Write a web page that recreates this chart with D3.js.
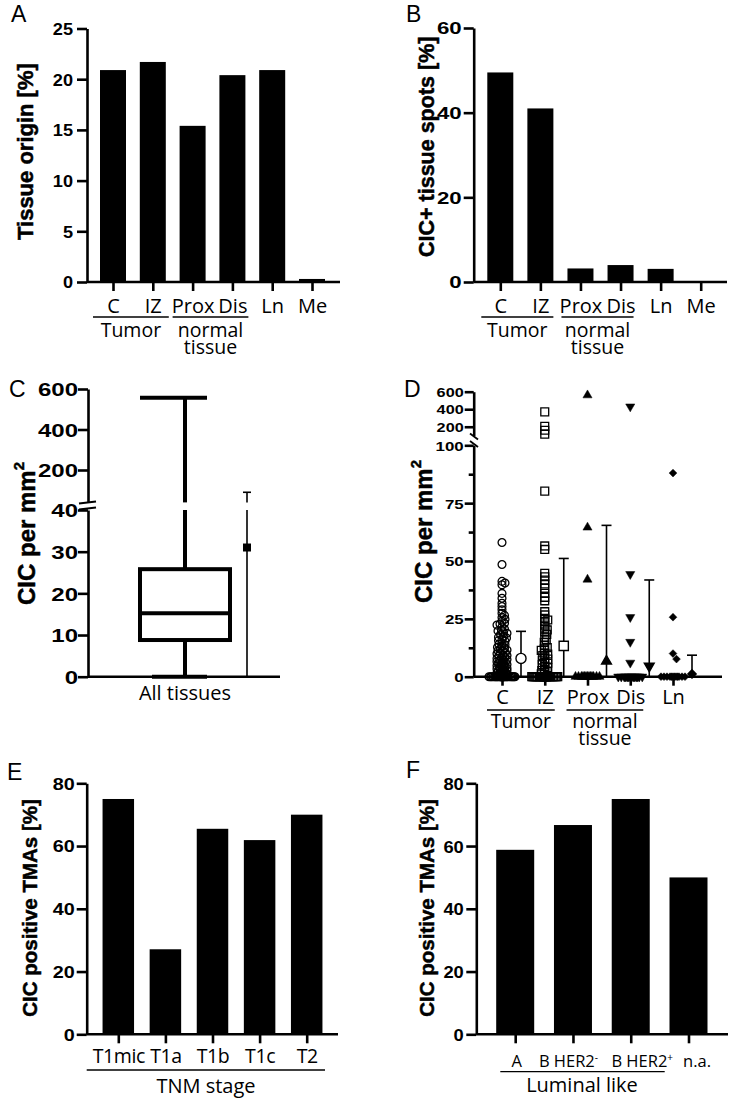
<!DOCTYPE html>
<html><head><meta charset="utf-8">
<script src="https://cdn.jsdelivr.net/npm/d3@7"></script>
<style>body{margin:0;background:#fff} svg{display:block;background:#fff}</style>
</head><body>
<svg id="fig" width="734" height="1105"></svg>
<script>
// ---------------- DATA ----------------
const tissueCats = ["C","IZ","Prox","Dis","Ln","Me"];
const tissueOrigin = [20.9, 21.7, 15.4, 20.4, 20.9, 0.3];
const cicSpots = [49.5, 41.0, 3.2, 4.0, 3.1, 0];
const groupNames = [["Tumor"], ["normal","tissue"]];
const groupSpans = [["C","IZ"], ["Prox","Dis"]];
const ticksA = [0,5,10,15,20,25];
const ticksB = [0,20,40,60];

const boxCats = ["All tissues"];
const boxMin = [0], boxQ1 = [8.8], boxMedian = [15.2], boxQ3 = [25.8], boxMax = [557];
const allMean = [31.0], allSdTop = [90];
const ticksCLow = [0,10,20,30,40], ticksCHigh = [200,400,600];

const dCats = ["C","IZ","Prox","Dis","Ln"];
const dValsC = [58,48.5,41.2,40.5,39.7,36,33.9,31.7,30.3,28.9,27.4,26.5,25.6,24.8,24,23.1,22.3,21.5,20.6,19.8,19,18.2,17.4,16.7,16,15.3,14.6,14,13.3,12.7,12.1,11.5,11,10.4,9.9,9.4,8.9,8.4,7.9,7.4,7,6.5,6.1,5.7,5.3,4.9,4.5,4.1,3.7,3.3,2.9,2.6,2.3,2,1.7,1.4,1.1,0.8,0.5,0.3,2.9,
  22.8,20.1,18.8,17.1,15.6,13.8,12.4,11.2,10.1,9.2,8.1,7.2,6.3,5.5,4.7,3.9,3.1,2.4,1.6,0.9,
  0,0,0,0,0,0,0,0,0,0,0,0,0,0,0,0,0,0,0,0,0,0,0,0,0,0,0,0];
const dValsIZ = [370,205,160,115,80.2,56.5,55,44.7,43.2,41.8,40.1,38.2,36,34.3,32.8,28.1,26.7,25.2,23.8,22.3,21,19.4,18.3,15.9,14.8,13.5,12.6,11.4,10.2,9.1,8,7.2,6.1,5.2,3.9,3.1,2.2,1.2,
  24.5,20.2,17.1,12,9.8,7.6,5.8,4.4,2.7,1.8,
  0,0,0,0,0,0,0,0,0,0,0,0,0,0,0,0,0,0,0,0,0,0,0,0,0,0,0,0];
const dValsProx = [560,64.5,42,0,0,0,0,0,0,0,0,0,0,0,0,0];
const dValsDis = [430,44.3,25.7,15,6,0,0,0,0,0,0,0,0,0,0,0,0,0,0];
const dValsLn = [88,25.7,10,7.6,0,0,0,0,0,0,0,0,0,0,0,0];
const dMeans = [7.9,13.3,6.7,4.6,1.2];
const dSdTop = [19.6,51.1,65.4,41.8,9.3];
const ticksDLow = [0,25,50,75,100], ticksDMinor = [12.5,37.5,62.5,87.5], ticksDHigh = [200,400,600];

const tnmCats = ["T1mic","T1a","T1b","T1c","T2"];
const tnmVals = [75,27.1,65.5,61.9,70];
const lumCats = ["A","B HER2-","B HER2+","n.a."];
const lumVals = [58.8,66.7,75,50];
const ticksEF = [0,20,40,60,80];

// ---------------- HELPERS ----------------
const svg = d3.select("#fig");
const FT = "'Liberation Sans', Arial, sans-serif";
const FL = "'Open Sans', sans-serif";
const AXW = 2.6;

function styleAxis(g){
  g.selectAll("path.domain,.tick line").attr("stroke","#000").attr("stroke-width",AXW);
  g.selectAll(".tick text").attr("font-family",FT).attr("font-weight","bold").attr("font-size",16).attr("fill","#000");
}
// y axis with horizontally stretched bold tick labels
function yAxis(scale, ticks, x, size, fs, sx, pad){
  const g = svg.append("g").attr("transform",`translate(${x},0)`)
    .call(d3.axisLeft(scale).tickValues(ticks).tickSize(size).tickPadding(pad).tickSizeOuter(0));
  styleAxis(g);
  g.selectAll(".tick text").attr("font-size",fs)
    .attr("x", -(size+pad)/sx).attr("transform",`scale(${sx},1)`).attr("dy","0.36em");
  return g;
}
function xAxis(scale, y, x0, x1, labelY, fs=20){
  const g = svg.append("g").attr("transform",`translate(0,${y})`)
    .call(d3.axisBottom(scale).tickSize(9).tickSizeOuter(0));
  styleAxis(g);
  g.select("path.domain").remove();
  g.append("line").attr("x1",x0).attr("x2",x1).attr("stroke","#000").attr("stroke-width",AXW);
  g.selectAll(".tick text").attr("font-family",FL).attr("font-weight","normal").attr("font-size",fs).attr("y",labelY).attr("dy",0);
  return g;
}
function ylabel(text, x, yBottom, fs, sup){
  const t = svg.append("text").attr("transform",`translate(${x},${yBottom}) rotate(-90)`)
    .attr("font-family",FT).attr("font-weight","bold").attr("font-size",fs).attr("fill","#000")
    .attr("stroke","#000").attr("stroke-width",0.5).text(text);
  if (sup) t.append("tspan").attr("font-size",fs*0.62).attr("dy",-fs*0.45).text(sup);
}
function panelLetter(t,x,y){
  svg.append("text").attr("x",x).attr("y",y).attr("font-family",FT).attr("font-size",23).attr("fill","#000").text(t);
}
function groups(xs, lineY, textY, padL, padR){
  groupSpans.forEach((sp,i)=>{
    const a = xs(sp[0])-padL, b = xs(sp[1])+padR;
    svg.append("line").attr("x1",a).attr("x2",b).attr("y1",lineY).attr("y2",lineY).attr("stroke","#000").attr("stroke-width",1.3);
    groupNames[i].forEach((s,j)=>{
      svg.append("text").attr("x",(a+b)/2).attr("y",textY+j*16.5).attr("text-anchor","middle")
        .attr("font-family",FL).attr("font-size",19.5).attr("fill","#000").text(s);
    });
  });
}
function bars(cats, vals, x, y, w){
  svg.append("g").selectAll("rect").data(cats).join("rect")
    .attr("x",d=>x(d)-w/2).attr("width",w)
    .attr("y",(d,i)=>y(vals[i])).attr("height",(d,i)=>y(0)-y(vals[i]))
    .attr("fill","#000");
}
function broken(segs){
  const sc = segs.map(s=>d3.scaleLinear().domain(s.d).range(s.r));
  const f = v => { for(let i=0;i<segs.length;i++){ if(v<=segs[i].d[1]||i===segs.length-1) return sc[i](v);} };
  f.sc = sc; f.segs = segs; return f;
}
function vLine(f, x, v0, v1, w){
  f.segs.forEach((s,i)=>{
    const lo=Math.max(v0,s.d[0]), hi=Math.min(v1,s.d[1]);
    if(hi>lo) svg.append("line").attr("x1",x).attr("x2",x).attr("y1",f.sc[i](lo)).attr("y2",f.sc[i](hi))
      .attr("stroke","#000").attr("stroke-width",w);
  });
}
function hLine(x0,x1,y,w){
  svg.append("line").attr("x1",x0).attr("x2",x1).attr("y1",y).attr("y2",y).attr("stroke","#000").attr("stroke-width",w);
}

// ---------------- PANEL A ----------------
{
  const x = d3.scalePoint().domain(tissueCats).range([113,312]);
  const y = d3.scaleLinear().domain([0,25]).range([282,28.5]);
  bars(tissueCats, tissueOrigin, x, y, 26);
  yAxis(y, ticksA, 87, 10, 16.5, 1.1, 4);
  xAxis(x, 282, 87, 340, 30.5);
  groups(x, 317, 337, 20, 16);
  ylabel("Tissue origin [%]", 33, 240, 22);
  panelLetter("A", 11, 22);
}
// ---------------- PANEL B ----------------
{
  const x = d3.scalePoint().domain(tissueCats).range([500.3,700.7]);
  const y = d3.scaleLinear().domain([0,60]).range([282,28]);
  bars(tissueCats, cicSpots, x, y, 26);
  yAxis(y, ticksB, 473.7, 10, 16.5, 1.35, 2);
  xAxis(x, 282, 473.7, 727, 30.5);
  groups(x, 317, 337, 19, 13);
  ylabel("CIC+ tissue spots [%]", 433.5, 257, 21.5);
  panelLetter("B", 406, 22);
}
// ---------------- PANEL C ----------------
{
  const f = broken([{d:[0,40], r:[676.7,510]}, {d:[40,600], r:[502.4,389]}]);
  const x = d3.scalePoint().domain(boxCats).range([88,282]).padding(0.5);
  const cx = x(boxCats[0]);
  const mx = cx + 62;
  vLine(f, cx, boxQ3[0], boxMax[0], 4);
  vLine(f, cx, boxMin[0], boxQ1[0], 4);
  hLine(cx-45, cx+22, f(boxMax[0]), 4);
  hLine(cx-33, cx+22, f(boxMin[0]), 4);
  svg.append("rect").attr("x",cx-45).attr("width",90).attr("y",f(boxQ3[0])).attr("height",f(boxQ1[0])-f(boxQ3[0]))
    .attr("fill","none").attr("stroke","#000").attr("stroke-width",4);
  hLine(cx-45, cx+45, f(boxMedian[0]), 4);
  vLine(f, mx, 0, allSdTop[0], 1.6);
  hLine(mx-4, mx+4, f(allSdTop[0]), 1.6);
  svg.append("path").attr("d", d3.symbol(d3.symbolSquare, 64)()).attr("transform",`translate(${mx},${f(allMean[0])})`).attr("fill","#000");
  yAxis(f.sc[0], ticksCLow, 88, 10, 18.5, 1.3, 0);
  yAxis(f.sc[1], ticksCHigh, 88, 10, 18.5, 1.3, 0);
  svg.append("line").attr("x1",88).attr("x2",280).attr("y1",676.7).attr("y2",676.7).attr("stroke","#000").attr("stroke-width",AXW);
  svg.append("text").attr("x",cx).attr("y",700).attr("text-anchor","middle").attr("font-family",FL).attr("font-size",20).attr("fill","#000").text(boxCats[0]);
  [502.5,508.5].forEach(yy=>svg.append("line").attr("x1",79).attr("x2",96).attr("y1",yy+1).attr("y2",yy-1).attr("stroke","#000").attr("stroke-width",2));
  ylabel("CIC per mm", 35, 605, 24, "2");
  panelLetter("C", 9, 397);
}
// ---------------- PANEL D ----------------
{
  const f = broken([{d:[0,100], r:[676.7,445.3]}, {d:[100,600], r:[435.5,391.7]}]);
  const x = d3.scalePoint().domain(dCats).range([502,673]);
  const series = [dValsC, dValsIZ, dValsProx, dValsDis, dValsLn];
  const syms = [
    {t:d3.symbolCircle, s:48, fill:"none", rot:0, ms:80},
    {t:d3.symbolSquare, s:62, fill:"none", rot:0, ms:85},
    {t:d3.symbolTriangle, s:36, fill:"#000", rot:0, ms:42},
    {t:d3.symbolTriangle, s:36, fill:"#000", rot:180, ms:42},
    {t:d3.symbolSquare, s:30, fill:"#000", rot:45, ms:34}
  ];
  const minD = [3.2,3.0,7,7,6.5];
  const maxHalfNZ = [5,4,6,6,6];
  function swarm(vals, cx, md, mh){
    const pts = vals.map(v=>({v, y:f(v)})).sort((a,b)=>b.v-a.v);
    const placed = [];
    for(const p of pts){
      const maxHalf = p.v===0 ? 13 : mh;
      const dmin = p.v===0 ? 6 : md;
      let found=null, bestX=cx, bestS=-1;
      outer: for(let k=0;k<=maxHalf;k+=0.5){
        for(const s of (k===0?[0]:[k,-k])){
          const xx=cx+s; let m=Infinity;
          for(const q of placed){ const d=Math.hypot(q.x-xx,q.y-p.y); if(d<m) m=d; }
          if(m>=dmin){ found=xx; break outer; }
          if(m>bestS){ bestS=m; bestX=xx; }
        }
      }
      p.x = found!==null ? found : bestX;
      placed.push(p);
    }
    return placed;
  }
  series.forEach((vals,i)=>{
    const cx = x(dCats[i]);
    const pts = swarm(vals, cx, minD[i], maxHalfNZ[i]);
    const sy = syms[i];
    svg.append("g").selectAll("path").data(pts).join("path")
      .attr("d", d3.symbol(sy.t, sy.s)())
      .attr("transform", d=>`translate(${d.x},${d.y}) rotate(${sy.rot})`)
      .attr("fill", sy.fill).attr("stroke","#000").attr("stroke-width", sy.fill==="none"?1.3:0.5);
    const mx = cx + 19;
    vLine(f, mx, 0, dSdTop[i], 1.6);
    hLine(mx-5, mx+5, f(dSdTop[i]), 1.6);
    svg.append("path").attr("d", d3.symbol(sy.t, sy.ms)())
      .attr("transform",`translate(${mx},${f(dMeans[i])}) rotate(${sy.rot})`)
      .attr("fill", sy.fill==="none"?"#fff":"#000").attr("stroke","#000").attr("stroke-width",1.4);
  });
  yAxis(f.sc[0], ticksDLow, 473.7, 9, 13.5, 1.25, 1);
  const gm = svg.append("g").attr("transform","translate(473.7,0)")
    .call(d3.axisLeft(f.sc[0]).tickValues(ticksDMinor).tickSize(5).tickFormat("").tickSizeOuter(0));
  styleAxis(gm); gm.select("path.domain").remove();
  yAxis(f.sc[1], ticksDHigh, 473.7, 9, 13, 1.25, 1);
  xAxis(x, 676.7, 473.7, 722, 27);
  [436.5,444].forEach(yy=>svg.append("line").attr("x1",470).attr("x2",478).attr("y1",yy-3).attr("y2",yy+3).attr("stroke","#000").attr("stroke-width",1.8));
  groupSpans.forEach((sp,i)=>{
    const a = x(sp[0])-(i===0?15:21), b = x(sp[1])+(i===0?10:13);
    hLine(a,b,710,1.3);
    groupNames[i].forEach((s,j)=>{
      svg.append("text").attr("x",(a+b)/2).attr("y",728.3+j*16.5).attr("text-anchor","middle")
        .attr("font-family",FL).attr("font-size",19.5).attr("fill","#000").text(s);
    });
  });
  ylabel("CIC per mm", 432, 603, 24, "2");
  panelLetter("D", 404, 397);
}
// ---------------- PANEL E ----------------
{
  const x = d3.scalePoint().domain(tnmCats).range([118.3,306.7]);
  const y = d3.scaleLinear().domain([0,80]).range([1034.3,783.3]);
  bars(tnmCats, tnmVals, x, y, 31.5);
  yAxis(y, ticksEF, 86.7, 10, 16.5, 1.2, 2);
  const gE = xAxis(x, 1034.3, 86.7, 338, 29, 19.5);
  gE.selectAll(".tick text").attr("letter-spacing",-0.4);
  hLine(86.7, 325, 1070, 1.3);
  svg.append("text").attr("x",206).attr("y",1093.3).attr("text-anchor","middle").attr("font-family",FL).attr("font-size",20).attr("fill","#000").text("TNM stage");
  ylabel("CIC positive TMAs [%]", 36.5, 1016.7, 20.5);
  panelLetter("E", 7, 780);
}
// ---------------- PANEL F ----------------
{
  const x = d3.scalePoint().domain(lumCats).range([515.2,688.5]);
  const y = d3.scaleLinear().domain([0,80]).range([1034.3,783.3]);
  bars(lumCats, lumVals, x, y, 38);
  yAxis(y, ticksEF, 476.3, 10, 17, 1.08, 2.5);
  const g = xAxis(x, 1034.3, 476.3, 728, 32.4, 16.5);
  const shift = [1,-5,11,8];
  g.selectAll(".tick text").each(function(d,i){
    const t = d3.select(this).text(null).attr("x",shift[i]);
    const m = d.match(/^(.*HER2)([+-])$/);
    if(m){
      t.append("tspan").text(m[1]);
      t.append("tspan").attr("font-size",10).attr("dy",-6).text(m[2]);
    } else t.text(d);
  });
  hLine(500.3, 664.7, 1071.7, 1.3);
  svg.append("text").attr("x",582).attr("y",1091.7).attr("text-anchor","middle").attr("font-family",FL).attr("font-size",20).attr("fill","#000").text("Luminal like");
  ylabel("CIC positive TMAs [%]", 433.5, 1016.7, 20.5);
  panelLetter("F", 406, 778);
}
</script>
</body></html>
